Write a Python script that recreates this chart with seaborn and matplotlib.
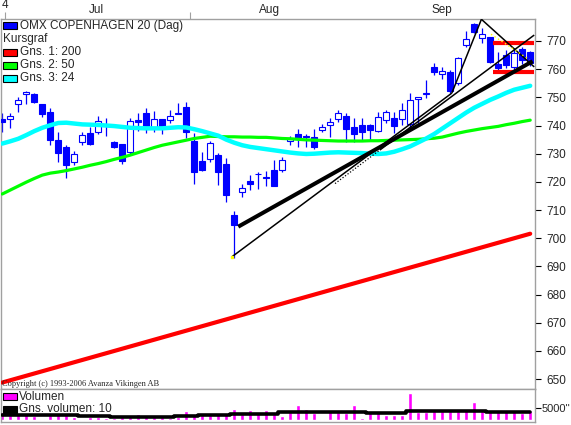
import numpy as np
import pandas as pd
import seaborn as sns
import matplotlib.pyplot as plt
from matplotlib.patches import Rectangle

sns.set_style("white")
plt.rcParams['font.family'] = ['Liberation Sans', 'DejaVu Sans']

# daily candles (one per trading day, left to right)
opens = [742.2, 742.2, 747.5, 751.1, 751.2, 747.6, 744.7, 734.9, 732.4, 726.9,
         734.0, 737.2, 737.8, 740.0, 734.0, 733.3, 730.7, 741.8, 744.3, 739.4,
         742.2, 742.0, 744.4, 746.7, 734.5, 727.4, 728.0, 729.5, 726.3, 708.2,
         716.3, 720.3, 722.8, 721.8, 724.2, 724.2, 734.6, 737.0, 736.1, 735.8,
         738.4, 740.1, 742.2, 743.4, 739.4, 740.2, 740.2, 738.2, 741.8, 742.6,
         742.4, 740.5, 749.3, 751.2, 760.9, 758.3, 759.1, 755.2, 768.6, 776.0,
         771.0, 771.3, 761.7, 765.0, 760.9, 767.1, 766.2]
highs = [744.4, 744.3, 750.2, 752.2, 751.4, 747.8, 746.1, 737.8, 733.1, 731.1,
         737.8, 739.6, 743.4, 742.5, 734.5, 733.4, 742.6, 744.5, 746.3, 745.2,
         742.4, 745.5, 748.0, 748.2, 737.2, 730.5, 734.5, 730.1, 728.4, 709.7,
         719.1, 722.4, 723.6, 724.0, 727.8, 729.0, 736.3, 738.8, 737.0, 738.8,
         740.5, 742.6, 745.5, 744.6, 742.6, 742.6, 740.5, 744.9, 745.5, 744.9,
         747.9, 751.4, 750.0, 756.2, 762.1, 760.9, 759.7, 764.4, 773.7, 776.4,
         774.5, 771.4, 766.2, 766.8, 767.4, 768.0, 766.4]
lows = [737.8, 739.2, 744.9, 747.5, 748.0, 743.1, 733.1, 727.2, 721.5, 726.0,
        733.1, 733.0, 736.9, 736.4, 731.9, 726.3, 729.8, 738.0, 737.2, 737.8,
        736.9, 741.0, 744.1, 735.5, 719.1, 724.0, 727.2, 718.9, 713.0, 692.9,
        714.7, 717.1, 717.5, 718.5, 718.4, 723.6, 733.1, 732.5, 732.3, 731.6,
        737.8, 735.8, 741.4, 734.3, 734.3, 734.6, 734.6, 737.8, 740.8, 737.4,
        740.2, 739.0, 740.8, 749.7, 757.9, 756.4, 751.7, 754.4, 768.0, 773.0,
        769.2, 762.1, 759.1, 760.4, 759.1, 762.0, 761.0]
closes = [741.1, 743.5, 749.1, 751.8, 748.2, 744.0, 734.8, 730.1, 726.0, 729.9,
          736.6, 733.3, 741.6, 740.2, 732.5, 727.4, 741.6, 741.2, 739.9, 742.2,
          739.6, 743.4, 744.2, 737.6, 723.6, 724.2, 733.7, 723.6, 715.3, 704.7,
          717.7, 719.3, 722.7, 721.4, 718.5, 727.8, 735.6, 735.5, 736.0, 732.5,
          739.4, 741.4, 744.6, 738.9, 737.0, 737.8, 738.4, 743.1, 744.7, 739.9,
          745.5, 749.1, 750.0, 751.3, 759.1, 759.4, 752.4, 763.9, 770.6, 773.3,
          772.6, 762.7, 760.3, 761.5, 765.9, 763.3, 762.1]

ma200 = [648.8, 649.6, 650.4, 651.2, 652.0, 652.8, 653.6, 654.4, 655.2, 656.0,
         656.8, 657.6, 658.4, 659.2, 660.0, 660.8, 661.6, 662.4, 663.2, 664.0,
         664.8, 665.6, 666.4, 667.2, 668.0, 668.8, 669.6, 670.4, 671.2, 672.0,
         672.8, 673.6, 674.4, 675.2, 676.0, 676.8, 677.6, 678.4, 679.2, 680.0,
         680.8, 681.6, 682.4, 683.2, 684.0, 684.8, 685.6, 686.4, 687.2, 688.0,
         688.8, 689.6, 690.4, 691.2, 692.0, 692.8, 693.6, 694.4, 695.2, 696.0,
         696.8, 697.6, 698.4, 699.2, 700.0, 700.8, 701.6]
ma50 = [715.7, 717.1, 718.5, 719.9, 721.2, 722.4, 723.1, 723.5, 724.0, 724.6,
        725.2, 725.9, 726.5, 727.2, 728.0, 728.7, 729.5, 730.4, 731.3, 732.2,
        733.0, 733.6, 734.2, 734.8, 735.4, 735.8, 736.2, 736.1, 736.0, 736.0,
        735.9, 735.9, 735.8, 735.8, 735.6, 735.4, 735.3, 735.1, 734.9, 734.8,
        734.7, 734.6, 734.5, 734.5, 734.5, 734.5, 734.6, 734.6, 734.7, 734.8,
        734.9, 735.0, 735.1, 735.3, 735.5, 735.9, 736.6, 737.3, 737.9, 738.4,
        738.9, 739.3, 739.7, 740.3, 740.8, 741.4, 741.9]
ma24 = [733.6, 734.4, 735.3, 736.6, 738.0, 739.2, 740.1, 740.9, 741.0, 740.7,
        740.4, 740.3, 740.2, 740.0, 739.8, 739.5, 739.2, 739.1, 739.0, 739.0,
        739.0, 739.2, 739.4, 739.3, 738.7, 738.0, 737.2, 736.4, 735.0, 733.9,
        733.0, 732.4, 732.0, 731.6, 731.2, 730.8, 730.4, 730.1, 729.9, 730.0,
        730.2, 730.4, 730.5, 730.4, 730.3, 730.2, 730.0, 729.9, 730.1, 730.7,
        731.6, 732.6, 734.0, 735.4, 737.0, 738.9, 740.8, 742.7, 744.6, 746.3,
        747.7, 749.1, 750.3, 751.6, 752.7, 753.4, 754.1]

volumes = [3300, 1950, 2800, 2800, 1670, 540, 2200, 2380, 1950, 1380,
           540, 1380, 1250, 960, 960, 1250, 1250, 2500, 1950, 1380,
           1250, 710, 1380, 3630, 2630, 2200, 2200, 3040, 3040, 4460,
           2630, 4170, 3040, 4170, 2500, 1830, 3340, 6380, 4590, 2750,
           290, 3800, 3340, 3040, 6090, 750, 3340, 3340, 2290, 2290,
           2290, 11400, 3340, 3340, 3800, 3800, 3800, 3800, 4250, 7300,
           4250, 3800, 3800, 3800, 3800, 2750, 3800]
vol_ma10 = [2200] * 5 + [1960] * 5 + [1670] * 4 + [1250] * 4 + [1380] * 4 + \
           [1670] * 3 + [1960] * 4 + [2500] * 6 + [3130] * 11 + [2920] * 5 + \
           [3750] * 10 + [3540] * 6

# drawn trend lines: (start day, start price) -> (end day, end price)
trend_x0 = [29.5, 28.7, 47.2, 56.2, 59.9]
trend_p0 = [704.1, 693.4, 731.3, 751.5, 777.7]
trend_x1 = [66.3, 56.2, 66.5, 59.9, 66.5]
trend_p1 = [762.8, 751.5, 772.1, 777.7, 760.8]
dotted_x = [41.6, 47.2]
dotted_p = [719.4, 731.3]
box_x = [61.3, 66.5]
box_levels = [769.3, 758.9]

price_ticks = list(range(650, 771, 10))
month_labels = ['Jul', 'Aug', 'Sep']
month_pos = [11.8, 33.4, 55.0]
edge_ticks = [0.34, 23.5]
edge_labels = ['4', '']

df = pd.DataFrame({'day': np.arange(len(opens)), 'open': opens, 'high': highs,
                   'low': lows, 'close': closes, 'ma200': ma200, 'ma50': ma50,
                   'ma24': ma24, 'vol': volumes, 'volma': vol_ma10})

W, H = 571, 425
fig = plt.figure(figsize=(W / 100, H / 100), dpi=100)
fig.patch.set_facecolor('white')
ax = fig.add_axes([1 / W, 1 - 389 / H, 534 / W, 370 / H])
axv = fig.add_axes([1 / W, 1 - 422 / H, 534 / W, 33 / H])

blue = '#0000ff'
gray = '#a0a0a0'

# candles
ax.vlines(df['day'], df['low'], df['high'], color=blue, lw=0.9, zorder=2)
body_lo = np.minimum(df['open'], df['close'])
body_h = np.maximum(np.abs(df['close'] - df['open']), 0.25)
faces = np.where(df['close'] >= df['open'], 'white', blue)
ax.bar(df['day'], body_h, bottom=body_lo, width=0.72, color=faces,
       edgecolor=blue, linewidth=0.8, zorder=3)

sns.lineplot(data=df, x='day', y='ma200', color='#ff0000', linewidth=3.0, ax=ax, zorder=4)
sns.lineplot(data=df, x='day', y='ma50', color='#00ff00', linewidth=2.3, ax=ax, zorder=4)
sns.lineplot(data=df, x='day', y='ma24', color='#00ffff', linewidth=3.2, ax=ax, zorder=4)

# trend lines
widths = [2.9, 1.1, 1.1, 1.1, 1.1]
for x0, p0, x1, p1, lw in zip(trend_x0, trend_p0, trend_x1, trend_p1, widths):
    ax.plot([x0, x1], [p0, p1], color='black', lw=lw, zorder=6, solid_capstyle='butt')
ax.plot(dotted_x, dotted_p, color='black', lw=0.9, ls=(0, (1, 1.5)), zorder=6)
for lv in box_levels:
    ax.plot(box_x, [lv, lv], color='#ff0000', lw=3.0, zorder=5, solid_capstyle='butt')
ax.plot([trend_x0[4] + 1.2, trend_x1[4] - 0.6],
        [trend_p0[4] - 5.3, trend_p1[4] + 2.6], color='#ffff00', lw=1.0,
        ls=(0, (1, 2)), zorder=7)
ax.plot([trend_x0[1]], [trend_p0[1]], marker='s', ms=2, color='#ffff00',
        zorder=7, linestyle='none')

ax.set_xlim(-0.16, 66.6)
ax.set_ylim(646.5, 777.8)
ax.set_xlabel('')
ax.set_ylabel('')
ax.yaxis.tick_right()
ax.set_yticks(price_ticks)
ax.tick_params(axis='y', direction='out', length=4, width=0.8, color='black',
               labelsize=8.5, pad=4, right=True, left=False)
ax.xaxis.tick_top()
ax.set_xticks(edge_ticks)
ax.set_xticklabels(edge_labels)
ax.set_xticks(month_pos, minor=True)
ax.set_xticklabels(month_labels, minor=True)
ax.tick_params(axis='x', which='major', direction='out', length=5, width=0.8,
               color=gray, labelsize=8.5, pad=1)
ax.tick_params(axis='x', which='minor', length=0, labelsize=8.5, pad=2)
for s in ax.spines.values():
    s.set_color(gray)
    s.set_linewidth(1)

# volume panel
axv.bar(df['day'], df['vol'], width=0.55, color='#ff00ff', zorder=2)
sns.lineplot(data=df, x='day', y='volma', color='black', linewidth=2.6,
             drawstyle='steps-mid', ax=axv, zorder=3)
axv.set_xlim(-0.16, 66.6)
axv.set_ylim(-834, 12927)
axv.set_xticks([])
axv.set_xlabel('')
axv.set_ylabel('')
axv.yaxis.tick_right()
axv.set_yticks([5000])
axv.set_yticklabels(["5000''"])
axv.tick_params(axis='y', direction='out', length=4, width=0.8, color='black',
                labelsize=8, pad=1, right=True, left=False)
for s in axv.spines.values():
    s.set_color(gray)
    s.set_linewidth(1)


def box(x, y, color):
    fig.patches.append(Rectangle((x / W, 1 - (y + 7) / H), 14 / W, 7 / H,
                                 transform=fig.transFigure, facecolor=color,
                                 edgecolor='black', linewidth=0.8, zorder=10))


def label(x, y, s, **kw):
    fig.text(x / W, 1 - y / H, s, va='center', ha='left', fontsize=8.5,
             zorder=11, **kw)


box(3, 22, blue)
label(20, 25.5, 'OMX COPENHAGEN 20 (Dag)')
label(3, 39, 'Kursgraf')
box(3, 48.5, '#ff0000')
label(20, 52, 'Gns. 1: 200')
box(3, 61.5, '#00ff00')
label(20, 65, 'Gns. 2: 50')
box(3, 74.5, '#00ffff')
label(20, 78, 'Gns. 3: 24')
box(3, 393, '#ff00ff')
label(19, 396.5, 'Volumen')
box(3, 406, 'black')
label(19, 409.5, 'Gns. volumen: 10')
fig.text(2 / W, 1 - 384 / H, 'Copyright (c) 1993-2006 Avanza Vikingen AB',
         family=['Liberation Serif', 'DejaVu Serif'], fontsize=6, va='center',
         ha='left', zorder=11)

fig.savefig('out.png', dpi=100, facecolor='white')
